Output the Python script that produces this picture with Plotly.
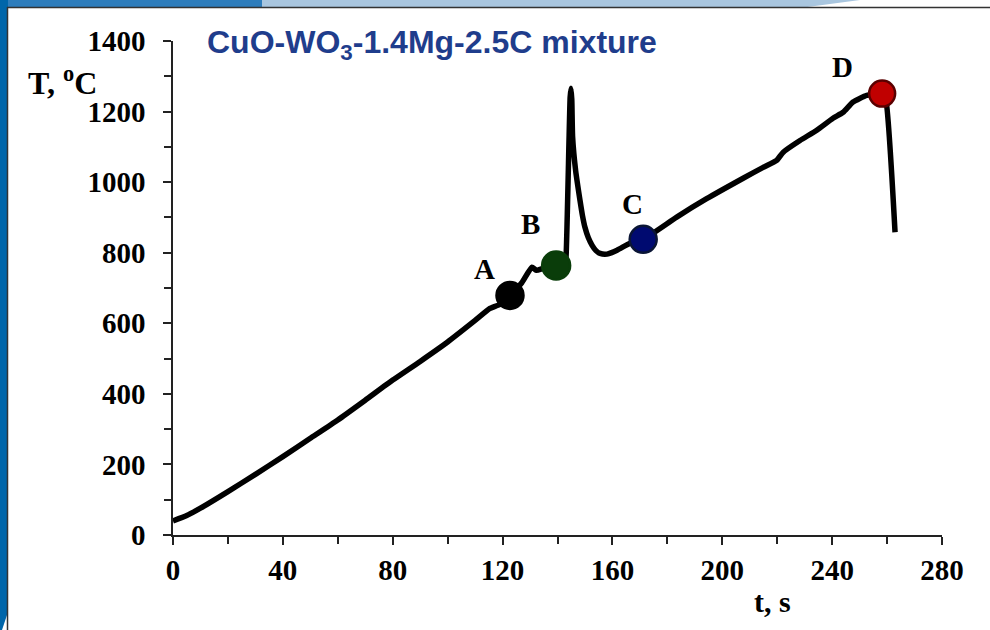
import plotly.graph_objects as go

# ---- data ----
time_s = [0, 5, 10, 20, 30, 40, 50, 60, 70, 80, 90, 100, 110, 115.4, 119.1, 122.7,
          127, 130.7, 132.3, 135, 139.5, 142.8, 143.1, 144.6, 144.9, 145.2, 145.5,
          146.6, 148.2, 149.1, 150.0, 151.2, 152.6, 154.0, 155.5, 158.0,
          161.7, 166.4, 171.2, 183.4, 194.3, 207.6, 214.9, 219.8, 222.2, 228.3,
          234.4, 240.3, 244, 247.6, 252.6, 258.2, 259.5, 262.9]
temp_c = [40, 55, 76, 123, 172, 222, 274, 326, 382, 439, 492, 547, 608, 642, 654, 679,
          715, 759, 750, 756, 764, 775, 787, 1240, 1266, 1235, 1128,
          1033, 948, 905, 872, 843, 821, 806, 798, 796,
          807, 827, 838, 901, 953, 1011, 1042, 1062, 1085, 1118,
          1147, 1181, 1198, 1227, 1246, 1251, 1235, 858]

point_names = ["A", "B", "C", "D"]
point_t = [122.7, 139.5, 171.2, 258.2]
point_T = [679, 764, 838, 1251]
point_colors = ["#000000", "#0a3d0a", "#000a70", "#c00000"]
point_edge = ["#000000", "#0a3d0a", "#0a1535", "#5a0000"]

x_ticks = [0, 40, 80, 120, 160, 200, 240, 280]
y_ticks = [0, 200, 400, 600, 800, 1000, 1200, 1400]

title_text = "CuO-WO<sub>3</sub>-1.4Mg-2.5C mixture"
x_title = "t, s"
y_title = "T, <sup>o</sup>C"

# ---- layout geometry (pixels) ----
W, H = 990, 630
L, R, T, B = 173, 48, 41, 95
PW, PH = W - L - R, H - T - B


def px(x):
    return (x - L) / PW


def py(y):
    return (H - B - y) / PH


def bold(s):
    return f"<b>{s}</b>"


fig = go.Figure()
fig.add_trace(go.Scatter(x=time_s, y=temp_c, mode="lines",
                         line=dict(color="black", width=5.5, shape="spline", smoothing=0.5),
                         hoverinfo="skip", showlegend=False))
fig.add_trace(go.Scatter(x=point_t, y=point_T, mode="markers", opacity=1,
                         marker=dict(size=[27, 28, 27, 26], color=point_colors, opacity=1,
                                     line=dict(color=point_edge, width=2.5)),
                         showlegend=False))

label_shift = [(-25, 26), (-26, 41), (-11, 35), (-40, 27)]
for name, tx, ty, (dx, dy) in zip(point_names, point_t, point_T, label_shift):
    fig.add_annotation(x=tx, y=ty, text=bold(name), showarrow=False, xshift=dx, yshift=dy,
                       font=dict(family="Liberation Serif", size=29, color="black"))

axis_font = dict(family="Liberation Serif", size=29, color="black")

fig.update_xaxes(range=[0, 280], tickvals=x_ticks, ticktext=[bold(v) for v in x_ticks],
                 showline=True, linecolor="#222",
                 linewidth=1.5, ticks="outside", ticklen=8, tickwidth=1.5, tickcolor="#222",
                 minor=dict(dtick=20, tick0=0, ticks="outside", ticklen=7, tickwidth=1.5,
                            tickcolor="#222", showgrid=False),
                 showgrid=False, zeroline=False, tickfont=axis_font, ticklabelstandoff=0)
fig.update_yaxes(range=[0, 1400], tickvals=y_ticks, ticktext=[bold(v) for v in y_ticks],
                 showline=True, linecolor="#222",
                 linewidth=1.5, ticks="outside", ticklen=8, tickwidth=1.5, tickcolor="#222",
                 minor=dict(dtick=100, tick0=0, ticks="outside", ticklen=7, tickwidth=1.5,
                            tickcolor="#222", showgrid=False),
                 showgrid=False, zeroline=False, tickfont=axis_font, ticklabelstandoff=12)

# titles as annotations
fig.add_annotation(xref="paper", yref="paper", x=px(432), y=py(45), text=bold(title_text),
                   showarrow=False, xanchor="center", yanchor="middle",
                   font=dict(family="Liberation Sans", size=32, color="#1f3d8c"))
fig.add_annotation(xref="paper", yref="paper", x=px(63), y=py(81), text=bold(y_title),
                   showarrow=False, xanchor="center", yanchor="middle",
                   font=dict(family="Liberation Serif", size=32, color="black"))
fig.add_annotation(xref="paper", yref="paper", x=px(772), y=py(601), text=bold(x_title),
                   showarrow=False, xanchor="center", yanchor="middle",
                   font=dict(family="Liberation Serif", size=30, color="black"))

# slide decoration: blue bands at top and left, framed white panel
shapes = [
    dict(type="path", xref="paper", yref="paper",
         path=f"M {px(260)},{py(0)} L {px(860)},{py(0)} L {px(800)},{py(8)} L {px(250)},{py(8)} Z",
         fillcolor="#a9c6df", line=dict(width=0), layer="below"),
    dict(type="rect", xref="paper", yref="paper", x0=px(0), x1=px(262), y0=py(0), y1=py(8),
         fillcolor="#2e7dbc", line=dict(width=0), layer="below"),
    dict(type="path", xref="paper", yref="paper",
         path=f"M {px(0)},{py(0)} L {px(8)},{py(0)} L {px(8)},{py(612)} L {px(2)},{py(630)} L {px(0)},{py(630)} Z",
         fillcolor="#0066aa", line=dict(width=0), layer="below"),
    dict(type="line", xref="paper", yref="paper", x0=px(7), x1=px(990), y0=py(7.5), y1=py(7.5),
         line=dict(color="#333", width=1.5), layer="below"),
    dict(type="line", xref="paper", yref="paper", x0=px(7.5), x1=px(7.5), y0=py(7), y1=py(630),
         line=dict(color="#333", width=1.5), layer="below"),
]

fig.update_layout(width=W, height=H, margin=dict(l=L, r=R, t=T, b=B),
                  paper_bgcolor="white", plot_bgcolor="white", shapes=shapes,
                  showlegend=False)

fig.write_html("out.html")
